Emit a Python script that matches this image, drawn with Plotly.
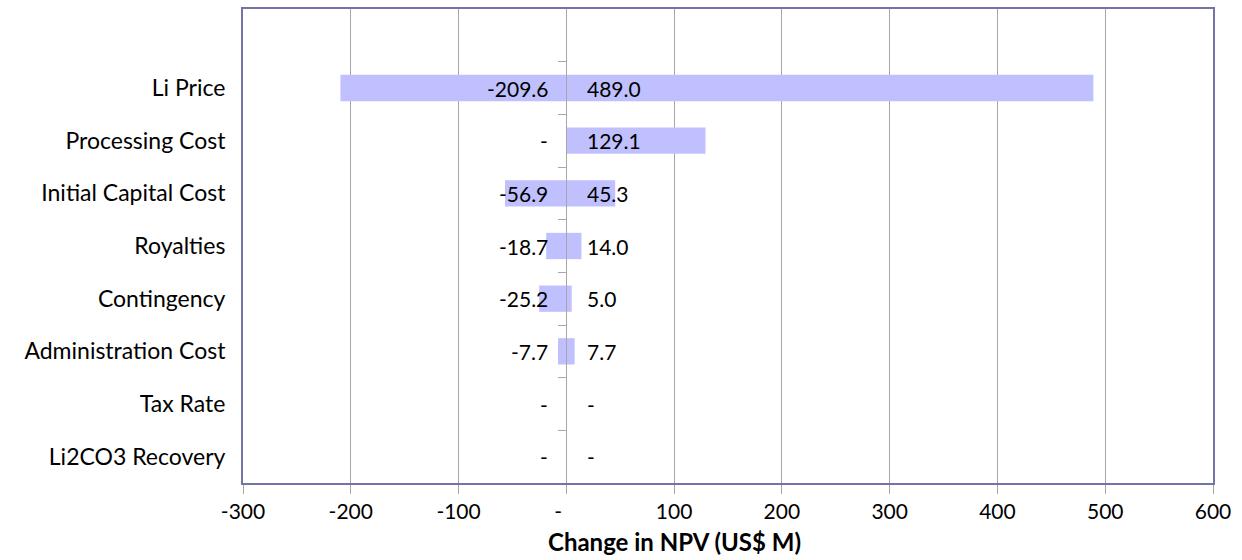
import plotly.graph_objects as go

# Sensitivity of project NPV to each input (US$ M)
categories = [
    "Li Price",
    "Processing Cost",
    "Initial Capital Cost",
    "Royalties",
    "Contingency",
    "Administration Cost",
    "Tax Rate",
    "Li2CO3 Recovery",
]
low_change = [-209.6, 0.0, -56.9, -18.7, -25.2, -7.7, 0.0, 0.0]
high_change = [489.0, 129.1, 45.3, 14.0, 5.0, 7.7, 0.0, 0.0]

x_tick_values = [-300, -200, -100, 0, 100, 200, 300, 400, 500, 600]
x_tick_text = ["-300", "-200", "-100", "-\u00a0\u00a0\u00a0", "100", "200", "300",
               "400", "500", "600"]

FONT = "Lato"
BAR_COLOR = "#C0C0FF"
FRAME_COLOR = "#7474A6"
GRID_COLOR = "#A6A6A6"

# rows are counted from the top; row 0 is left empty
rows = [i + 1 for i in range(len(categories))]
row_bounds = [r - 0.5 for r in rows]
y_range = [len(categories) + 0.5, -0.5]


def fmt(v):
    return "-" if v == 0 else f"{v:.1f}"


fig = go.Figure()
fig.add_trace(go.Bar(
    x=high_change, y=rows, orientation="h", width=0.5,
    marker=dict(color=BAR_COLOR, line=dict(width=0)),
    hoverinfo="skip", showlegend=False,
))
fig.add_trace(go.Bar(
    x=low_change, y=rows, orientation="h", width=0.5,
    marker=dict(color=BAR_COLOR, line=dict(width=0)),
    hoverinfo="skip", showlegend=False, yaxis="y2",
))

annotations = []
for r, lo, hi in zip(rows, low_change, high_change):
    annotations.append(dict(
        x=0, y=r, xref="x", yref="y", text=fmt(lo), showarrow=False,
        xanchor="right", yanchor="middle", xshift=-16,
        font=dict(family=FONT, size=21, color="black"),
    ))
    annotations.append(dict(
        x=0, y=r, xref="x", yref="y", text=fmt(hi), showarrow=False,
        xanchor="left", yanchor="middle", xshift=19,
        font=dict(family=FONT, size=21, color="black"),
    ))
annotations.append(dict(
    x=0.445, y=-0.124, xref="paper", yref="paper",
    text="<b>Change in NPV (US$ M)</b>", showarrow=False,
    xanchor="center", yanchor="middle",
    font=dict(family=FONT, size=24, color="black"),
))

fig.update_layout(
    width=1242, height=560,
    margin=dict(l=243, r=29, t=7, b=77),
    paper_bgcolor="white", plot_bgcolor="white",
    barmode="overlay",
    font=dict(family=FONT, size=21, color="black"),
    annotations=annotations,
    xaxis=dict(
        range=[-300, 600], tickvals=x_tick_values, ticktext=x_tick_text,
        showgrid=True, gridcolor=GRID_COLOR, gridwidth=1, zeroline=False,
        showline=True, linecolor=FRAME_COLOR, linewidth=2, mirror=True,
        ticks="outside", ticklen=9, tickcolor=GRID_COLOR, tickwidth=1,
        tickfont=dict(family=FONT, size=21, color="black"),
    ),
    yaxis=dict(
        range=y_range, tickvals=rows, ticktext=categories,
        showgrid=False, zeroline=False, ticks="",
        showline=True, linecolor=FRAME_COLOR, linewidth=2, mirror=True,
        ticklabelstandoff=11,
        tickfont=dict(family=FONT, size=23, color="black"),
    ),
    yaxis2=dict(
        range=y_range, overlaying="y", anchor="free", position=1 / 3,
        side="left", tickvals=row_bounds, showticklabels=False,
        ticks="outside", ticklen=8, tickcolor=GRID_COLOR, tickwidth=1,
        showline=True, linecolor=GRID_COLOR, linewidth=1,
        showgrid=False, zeroline=False,
    ),
)

fig.write_html("out.html")
